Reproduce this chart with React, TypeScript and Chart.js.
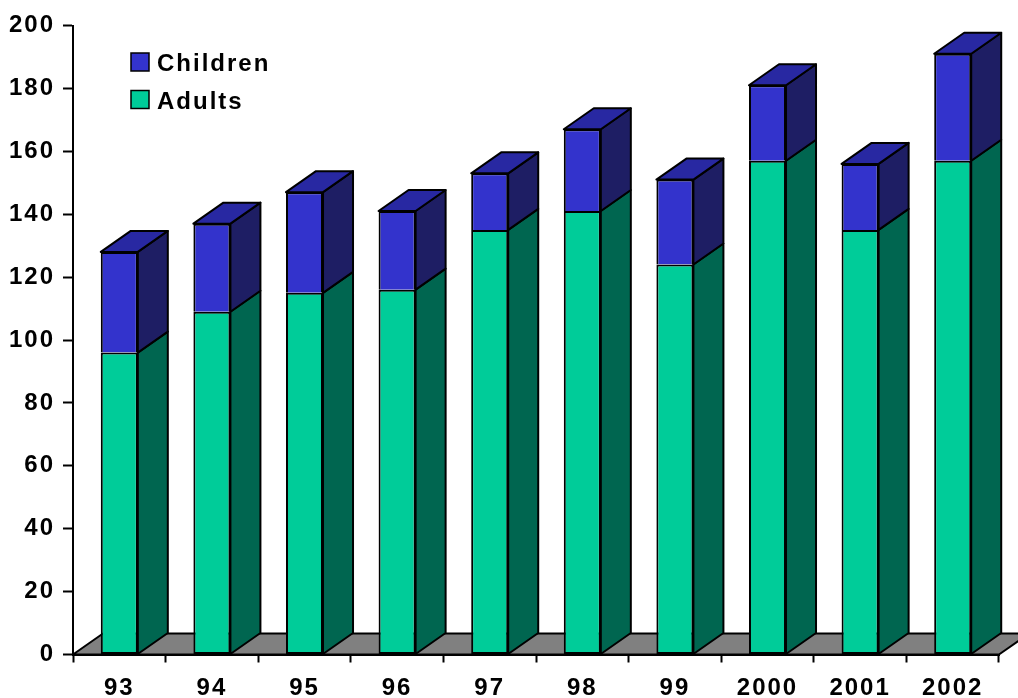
import React, { useEffect, useRef } from "react";
import { Chart, registerables } from "chart.js";

Chart.register(...registerables);

// Yearly counts, split into adults and children
const years = ["93", "94", "95", "96", "97", "98", "99", "2000", "2001", "2002"];
const adults = [96, 109, 115, 116, 135, 141, 124, 157, 135, 157];
const children = [32, 28, 32, 25, 18, 26, 27, 24, 21, 34];

const Y_MIN = 0;
const Y_MAX = 200;
const Y_STEP = 20;

// Face colours: front / side / top
const ADULT_FRONT = "#00CC99";
const ADULT_SIDE = "#006650";
const CHILD_FRONT = "#3333CC";
const CHILD_SIDE = "#1E1E64";
const CHILD_TOP = "#2828A2";
const FLOOR = "#808080";

// Oblique depth of the pseudo-3D boxes
const DX = 30;
const DY = -21;

const FONT_FAMILY = '"Liberation Sans", Arial, Helvetica, sans-serif';
const FONT_SIZE = 24;
const SPACING = "2px";
const EDGE = 2;

const depthPlugin = {
  id: "depth3d",
  beforeDraw(chart: any) {
    (chart.ctx as any).letterSpacing = SPACING;
  },
  beforeDatasetsDraw(chart: any) {
    const { ctx } = chart;
    const xs = chart.scales.x;
    const y0 = chart.scales.y.getPixelForValue(0);
    ctx.save();
    ctx.beginPath();
    ctx.moveTo(xs.left, y0);
    ctx.lineTo(xs.right, y0);
    ctx.lineTo(xs.right + DX, y0 + DY);
    ctx.lineTo(xs.left + DX, y0 + DY);
    ctx.closePath();
    ctx.fillStyle = FLOOR;
    ctx.fill();
    ctx.lineWidth = EDGE;
    ctx.lineJoin = "round";
    ctx.strokeStyle = "#000";
    ctx.stroke();
    ctx.restore();
  },
  afterDatasetsDraw(chart: any) {
    const { ctx } = chart;
    const sides = [ADULT_SIDE, CHILD_SIDE];
    const count = chart.data.datasets.length;
    ctx.save();
    ctx.lineWidth = EDGE;
    ctx.lineJoin = "round";
    ctx.strokeStyle = "#000";
    for (let d = 0; d < count; d++) {
      const meta = chart.getDatasetMeta(d);
      meta.data.forEach((bar: any) => {
        const { x, y, base, width } = bar.getProps(["x", "y", "base", "width"], true);
        const l = x - width / 2;
        const r = x + width / 2;
        // right-hand side face
        ctx.beginPath();
        ctx.moveTo(r, y);
        ctx.lineTo(r + DX, y + DY);
        ctx.lineTo(r + DX, base + DY);
        ctx.lineTo(r, base);
        ctx.closePath();
        ctx.fillStyle = sides[d];
        ctx.fill();
        ctx.stroke();
        // lid of the stack
        if (d === count - 1) {
          ctx.beginPath();
          ctx.moveTo(l, y);
          ctx.lineTo(l + DX, y + DY);
          ctx.lineTo(r + DX, y + DY);
          ctx.lineTo(r, y);
          ctx.closePath();
          ctx.fillStyle = CHILD_TOP;
          ctx.fill();
          ctx.stroke();
        }
      });
    }
    ctx.restore();
  },
  afterDraw(chart: any) {
    const { ctx } = chart;
    const items = [
      { label: "Children", color: CHILD_FRONT, y: 53 },
      { label: "Adults", color: ADULT_FRONT, y: 90.5 },
    ];
    ctx.save();
    (ctx as any).letterSpacing = SPACING;
    ctx.font = `bold ${FONT_SIZE}px ${FONT_FAMILY}`;
    ctx.textAlign = "left";
    ctx.textBaseline = "alphabetic";
    items.forEach((it) => {
      ctx.fillStyle = it.color;
      ctx.fillRect(131, it.y, 18, 18);
      ctx.lineWidth = 1.5;
      ctx.strokeStyle = "#000";
      ctx.strokeRect(131, it.y, 18, 18);
      ctx.fillStyle = "#000";
      ctx.fillText(it.label, 157, it.y + 18);
    });
    ctx.restore();
  },
};

export default function App() {
  const canvasRef = useRef<HTMLCanvasElement | null>(null);

  useEffect(() => {
    const prevMargin = document.body.style.margin;
    document.body.style.margin = "0";
    const canvas = canvasRef.current;
    if (!canvas) return;

    const tickFont = { family: FONT_FAMILY, size: FONT_SIZE, weight: "bold" };

    const chart = new Chart(canvas, {
      type: "bar",
      data: {
        labels: years,
        datasets: [
          {
            label: "Adults",
            data: adults,
            backgroundColor: ADULT_FRONT,
            borderColor: "#000",
            borderWidth: EDGE,
            borderSkipped: false,
            barPercentage: 0.4,
            categoryPercentage: 1,
          },
          {
            label: "Children",
            data: children,
            backgroundColor: CHILD_FRONT,
            borderColor: "#000",
            borderWidth: EDGE,
            // the adults segment already draws the shared edge
            borderSkipped: "start",
            barPercentage: 0.4,
            categoryPercentage: 1,
          },
        ],
      },
      options: {
        responsive: false,
        maintainAspectRatio: false,
        devicePixelRatio: 1,
        animation: false,
        layout: { padding: { top: 25.5, right: 19, left: 0, bottom: 0 } },
        plugins: {
          legend: { display: false },
          tooltip: { enabled: false },
        },
        scales: {
          x: {
            stacked: true,
            offset: true,
            grid: {
              offset: true,
              drawOnChartArea: false,
              drawTicks: true,
              tickLength: 8,
              tickWidth: 2,
              tickColor: "#000",
            },
            border: { display: true, color: "#000", width: 2 },
            ticks: {
              color: "#000",
              font: tickFont,
              padding: 11,
              maxRotation: 0,
              autoSkip: false,
            },
            afterFit(scale: any) {
              scale.height = 43.5;
              scale.paddingLeft = 0;
              scale.paddingRight = 0;
            },
          },
          y: {
            stacked: true,
            min: Y_MIN,
            max: Y_MAX,
            grid: {
              drawOnChartArea: false,
              drawTicks: true,
              tickLength: 10,
              tickWidth: 2,
              tickColor: "#000",
            },
            border: { display: true, color: "#000", width: 2 },
            ticks: {
              stepSize: Y_STEP,
              color: "#000",
              font: tickFont,
              padding: 8,
            },
            afterFit(scale: any) {
              scale.width = 73;
            },
          },
        },
      },
      plugins: [depthPlugin],
    } as any);

    return () => {
      chart.destroy();
      document.body.style.margin = prevMargin;
    };
  }, []);

  return (
    <div style={{ position: "absolute", left: 0, top: 0, width: 1018, height: 698, background: "#fff" }}>
      <canvas ref={canvasRef} width={1018} height={698} style={{ display: "block" }} />
    </div>
  );
}
